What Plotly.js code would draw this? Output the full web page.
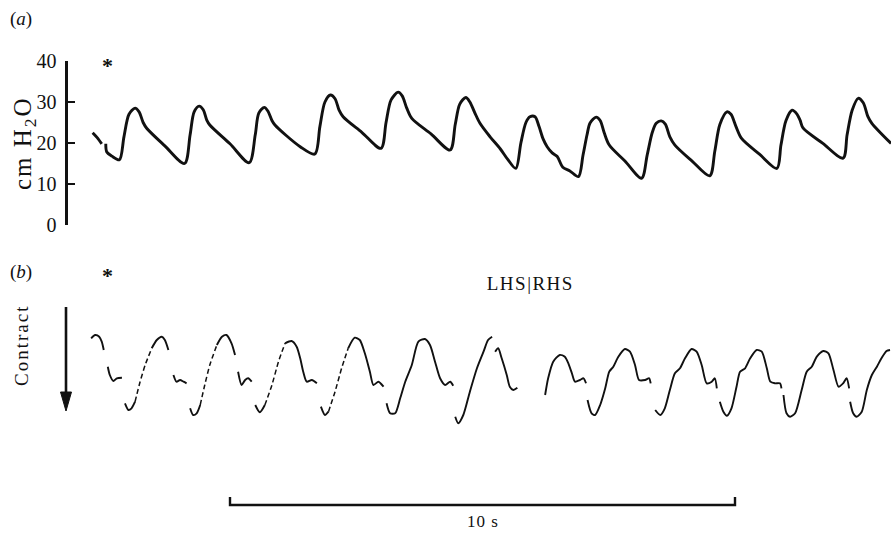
<!DOCTYPE html>
<html>
<head>
<meta charset="utf-8">
<script src="https://cdn.plot.ly/plotly-3.0.1.min.js"></script>
<style>
  html, body { margin: 0; padding: 0; background: #fff; }
  #chart { width: 891px; height: 537px; }
</style>
</head>
<body>
<div id="chart"></div>
<script>
// (a) airway pressure, cm H2O, against time in seconds
const pressureTime = [
  0.28, 0.37, 0.46, null,
  0.54, 0.56, 0.66, 0.81, 0.90, 1.00, 1.12, 1.20, 1.28, 1.35, 1.71, 2.10,
  2.21, 2.29, 2.39, 2.47, 2.54, 2.60, 3.00, 3.38,
  3.50, 3.57, 3.68, 3.75, 3.83, 3.89, 4.39, 4.68,
  4.78, 4.88, 4.99, 5.08, 5.16, 5.24, 5.61, 5.99,
  6.09, 6.19, 6.33, 6.41, 6.50, 6.60, 6.98, 7.36,
  7.46, 7.55, 7.67, 7.75, 7.85, 7.95, 8.15, 8.35, 8.50, 8.66,
  8.76, 8.86, 8.94, 9.04, 9.12, 9.20, 9.28, 9.38, 9.48, 9.59, 9.73, 9.90,
  9.99, 10.07, 10.13, 10.25, 10.33, 10.41, 10.51, 10.82, 11.15,
  11.26, 11.36, 11.44, 11.54, 11.62, 11.71, 11.81, 12.15, 12.50,
  12.60, 12.70, 12.84, 12.92, 13.02, 13.13, 13.49, 13.83,
  13.91, 14.01, 14.13, 14.23, 14.29, 14.35, 14.74, 15.14,
  15.22, 15.32, 15.44, 15.54, 15.63, 15.71, 16.09
];
const pressure = [
  22.5, 21.3, 19.8, null,
  19.8, 17.8, 16.8, 15.9, 21.5, 27.0, 28.5, 27.6, 25.0, 23.6, 19.3, 15.0,
  22.0, 27.6, 29.0, 28.1, 25.6, 24.4, 19.8, 15.2,
  22.0, 27.3, 28.7, 27.8, 25.5, 24.4, 19.1, 17.3,
  24.0, 30.0, 31.7, 30.8, 28.0, 26.4, 22.6, 18.7,
  25.0, 30.5, 32.4, 31.5, 28.5, 26.0, 22.2, 18.3,
  24.5, 29.5, 31.1, 30.0, 27.3, 24.8, 21.5, 18.6, 16.0, 13.8,
  20.0, 25.0, 26.4, 26.4, 24.0, 21.0, 19.1, 17.6, 16.7, 14.1, 13.2, 11.8,
  17.0, 22.0, 24.9, 26.3, 25.5, 22.5, 19.5, 15.6, 11.4,
  17.0, 22.5, 24.8, 25.4, 24.6, 21.5, 19.5, 15.6, 12.0,
  18.0, 24.5, 27.6, 27.0, 24.0, 21.1, 17.2, 13.8,
  19.5, 25.5, 28.0, 27.0, 25.5, 23.6, 19.9, 16.3,
  22.0, 28.0, 30.9, 29.8, 26.5, 24.8, 19.9
];

// (b) muscle movement (arbitrary units, contraction downward)
const movementTime = [
  0.25, 0.33, 0.41, 0.46, 0.50, null,
  0.58, 0.62, 0.69, 0.76, 0.86, null,
  0.92, 0.99, 1.05, 1.12, null,
  1.45, 1.55, 1.65, 1.71, 1.78, null,
  1.88, 1.94, 2.01, 2.08, 2.14, null,
  2.21, 2.27, 2.34, 2.41, null,
  2.74, 2.84, 2.93, 3.03, 3.10, null,
  3.16, 3.23, 3.30, 3.36, 3.43, null,
  3.50, 3.59, 3.69, null,
  4.09, 4.22, 4.32, 4.39, 4.45, 4.52, 4.62, 4.72, null,
  4.80, 4.88, 4.95, null,
  5.34, 5.47, 5.57, 5.67, 5.77, 5.84, 5.94, 6.04, null,
  6.10, 6.17, 6.27, 6.37, 6.47, 6.60, 6.73, 6.86, 6.96, 7.06, 7.16, 7.26, 7.36, 7.42, null,
  7.46, 7.52, 7.62, 7.75, 7.89, 8.02, 8.11, 8.19, null,
  8.25, 8.31, 8.38, 8.48, 8.54, 8.61, 8.69, null,
  9.24, 9.30, 9.40, 9.53, 9.63, 9.70, 9.77, 9.83, 9.93, 10.00, 10.05, null,
  10.08, 10.16, 10.23, 10.33, 10.43, 10.51, 10.59, 10.69, 10.82, 10.92, 11.02, 11.10, 11.22, 11.30, 11.33, null,
  11.42, 11.52, 11.61, 11.71, 11.81, 11.91, 12.01, 12.14, 12.24, 12.34, 12.44, 12.54, 12.60, 12.64, null,
  12.70, 12.77, 12.84, 12.93, 13.03, 13.10, 13.20, 13.30, 13.43, 13.53, 13.63, 13.70, 13.79, 13.89, 13.92, null,
  13.96, 14.02, 14.09, 14.19, 14.32, 14.42, 14.52, 14.62, 14.75, 14.85, 14.95, 15.05, 15.14, 15.21, 15.26, null,
  15.28, 15.34, 15.41, 15.51, 15.61, 15.71, 15.81, 15.90, 16.00, 16.07
];
const movement = [
  9.17, 9.50, 9.33, 8.83, 8.00, null,
  6.33, 5.50, 4.90, 5.17, 5.23, null,
  2.67, 2.00, 2.17, 2.83, null,
  8.17, 9.00, 9.33, 9.00, 8.00, null,
  5.50, 4.83, 5.00, 4.83, 4.67, null,
  2.17, 1.50, 1.67, 2.50, null,
  8.50, 9.33, 9.50, 8.67, 7.50, null,
  5.83, 4.50, 5.00, 5.17, 4.83, null,
  2.50, 1.77, 2.50, null,
  8.67, 8.90, 8.33, 7.17, 5.83, 4.83, 5.00, 4.67, null,
  2.33, 1.50, 1.83, null,
  8.17, 9.23, 9.00, 7.67, 5.83, 4.50, 4.83, 4.33, null,
  2.67, 1.67, 1.67, 3.17, 4.83, 6.50, 8.83, 9.10, 8.50, 6.83, 5.17, 4.50, 4.83, 4.43, null,
  1.33, 0.67, 1.50, 3.83, 6.17, 7.83, 9.00, 9.33, null,
  7.83, 8.17, 7.17, 5.50, 4.33, 4.00, 4.23, null,
  3.50, 5.17, 6.83, 7.50, 7.33, 6.67, 5.67, 4.83, 5.00, 5.17, 4.67, null,
  3.00, 1.67, 1.50, 2.50, 4.17, 5.83, 6.33, 7.33, 8.10, 7.83, 6.50, 5.00, 5.00, 5.17, 4.67, null,
  2.00, 1.50, 2.17, 4.00, 5.67, 6.17, 7.17, 8.10, 7.83, 6.50, 4.67, 4.83, 5.17, 4.17, null,
  2.83, 1.83, 1.43, 2.17, 4.33, 5.83, 6.17, 7.17, 8.00, 7.83, 6.17, 4.83, 4.67, 4.67, 4.17, null,
  3.50, 1.67, 1.33, 1.67, 4.00, 5.83, 6.33, 7.33, 7.90, 7.67, 6.00, 4.33, 4.67, 5.17, 4.17, null,
  2.83, 1.67, 1.33, 1.83, 4.00, 5.50, 6.33, 7.17, 7.90, 8.00
];
// faint, broken relaxation strokes on the left-hand side
const movementFaintTime = [1.12, 1.22, 1.32, 1.45, null, 2.41, 2.50, 2.60, 2.74, null,
                           3.69, 3.83, 3.96, 4.09, null, 4.95, 5.08, 5.21, 5.34];
const movementFaint = [2.83, 4.83, 6.50, 8.17, null, 2.50, 4.50, 6.50, 8.50, null,
                       2.50, 4.50, 6.83, 8.67, null, 1.83, 3.83, 6.17, 8.17];

const pressureTicks = [0, 10, 20, 30, 40];
const scaleBarStart = 3;     // s
const scaleBarSeconds = 10;  // s

// page geometry helpers (pixel -> paper fraction)
const W = 891, H = 537;
const px = x => x / W;
const py = y => 1 - y / H;

const ink = '#111';
const serif = 'Liberation Serif, Times New Roman, serif';

const traces = [
  {
    x: pressureTime, y: pressure, xaxis: 'x', yaxis: 'y',
    mode: 'lines', connectgaps: false,
    line: { color: ink, width: 2.9, shape: 'spline', smoothing: 0.85 },
    hoverinfo: 'skip'
  },
  {
    x: movementTime, y: movement, xaxis: 'x', yaxis: 'y2',
    mode: 'lines', connectgaps: false,
    line: { color: ink, width: 1.9, shape: 'spline', smoothing: 0.7 },
    hoverinfo: 'skip'
  },
  {
    x: movementFaintTime, y: movementFaint, xaxis: 'x', yaxis: 'y2',
    mode: 'lines', connectgaps: false,
    line: { color: ink, width: 1.5, dash: '5px,3px', shape: 'spline', smoothing: 0.6 },
    hoverinfo: 'skip'
  }
];

const layout = {
  width: W, height: H,
  margin: { l: 0, r: 0, t: 0, b: 0 },
  paper_bgcolor: '#fff', plot_bgcolor: 'rgba(0,0,0,0)',
  showlegend: false,
  font: { family: serif, color: ink, size: 18 },
  xaxis: {
    domain: [px(68), 1], range: [(68 - 78.5) / 50.5, (891 - 78.5) / 50.5],
    visible: false, fixedrange: true
  },
  yaxis: {
    domain: [py(225), py(61)], range: [0, 40], anchor: 'x',
    showline: true, linewidth: 2.6, linecolor: ink,
    ticks: 'inside', tickvals: pressureTicks, ticklen: 7, tickwidth: 2.4, tickcolor: ink,
    ticklabelstandoff: 5,
    tickfont: { family: serif, size: 20, color: ink },
    showgrid: false, zeroline: false, fixedrange: true
  },
  yaxis2: {
    domain: [py(430), py(330)], range: [0, 10], anchor: 'x',
    visible: false, fixedrange: true
  },
  shapes: [
    // 10 s scale bar
    {
      type: 'path', xref: 'x', yref: 'paper',
      path: `M ${scaleBarStart},${py(497)} L ${scaleBarStart},${py(505)} L ${scaleBarStart + scaleBarSeconds},${py(505)} L ${scaleBarStart + scaleBarSeconds},${py(497)}`,
      line: { color: ink, width: 2.4 }
    },
    // "Contract" direction arrow: shaft and head
    {
      type: 'line', xref: 'paper', yref: 'paper',
      x0: px(66), x1: px(66), y0: py(307), y1: py(396),
      line: { color: ink, width: 2.6 }
    },
    {
      type: 'path', xref: 'paper', yref: 'paper',
      path: `M ${px(60.5)},${py(392)} L ${px(71.5)},${py(392)} L ${px(66)},${py(411)} Z`,
      fillcolor: ink, line: { color: ink, width: 1 }
    }
  ],
  annotations: [
    { text: '(<i>a</i>)', xref: 'paper', yref: 'paper', x: px(21), y: py(19),
      xanchor: 'center', yanchor: 'middle', showarrow: false, font: { size: 19 } },
    { text: '(<i>b</i>)', xref: 'paper', yref: 'paper', x: px(21), y: py(272),
      xanchor: 'center', yanchor: 'middle', showarrow: false, font: { size: 19 } },
    { text: '<b>*</b>', xref: 'paper', yref: 'paper', x: px(107), y: py(66),
      xanchor: 'center', yanchor: 'middle', showarrow: false, font: { size: 22 } },
    { text: '<b>*</b>', xref: 'paper', yref: 'paper', x: px(107), y: py(275),
      xanchor: 'center', yanchor: 'middle', showarrow: false, font: { size: 22 } },
    { text: 'cm H<sub>2</sub>O', xref: 'paper', yref: 'paper', x: px(24), y: py(143),
      xanchor: 'center', yanchor: 'middle', textangle: -90, showarrow: false, font: { size: 25 } },
    { text: 'Contract', xref: 'paper', yref: 'paper', x: px(21), y: py(345),
      xanchor: 'center', yanchor: 'middle', textangle: -90, showarrow: false, font: { size: 19 } },
    { text: 'LHS|RHS', xref: 'paper', yref: 'paper', x: px(530), y: py(283),
      xanchor: 'center', yanchor: 'middle', showarrow: false, font: { size: 19 } },
    { text: '10 s', xref: 'x', yref: 'paper', x: scaleBarStart + scaleBarSeconds / 2, y: py(521),
      xanchor: 'center', yanchor: 'middle', showarrow: false, font: { size: 17 } }
  ]
};

// typeset letter spacing for the loosely set labels
const tracking = { 'cm H2O': '2px', 'Contract': '2px', 'LHS|RHS': '1.5px', '10 s': '1px' };

Plotly.newPlot('chart', traces, layout, { staticPlot: true, displayModeBar: false }).then(gd => {
  gd.querySelectorAll('.annotation-text').forEach(t => {
    const key = t.textContent.replace(/[\u200b\u00a0]/g, '').trim();
    const s = tracking[key];
    if (s) t.style.letterSpacing = s;
  });
});
</script>
</body>
</html>
